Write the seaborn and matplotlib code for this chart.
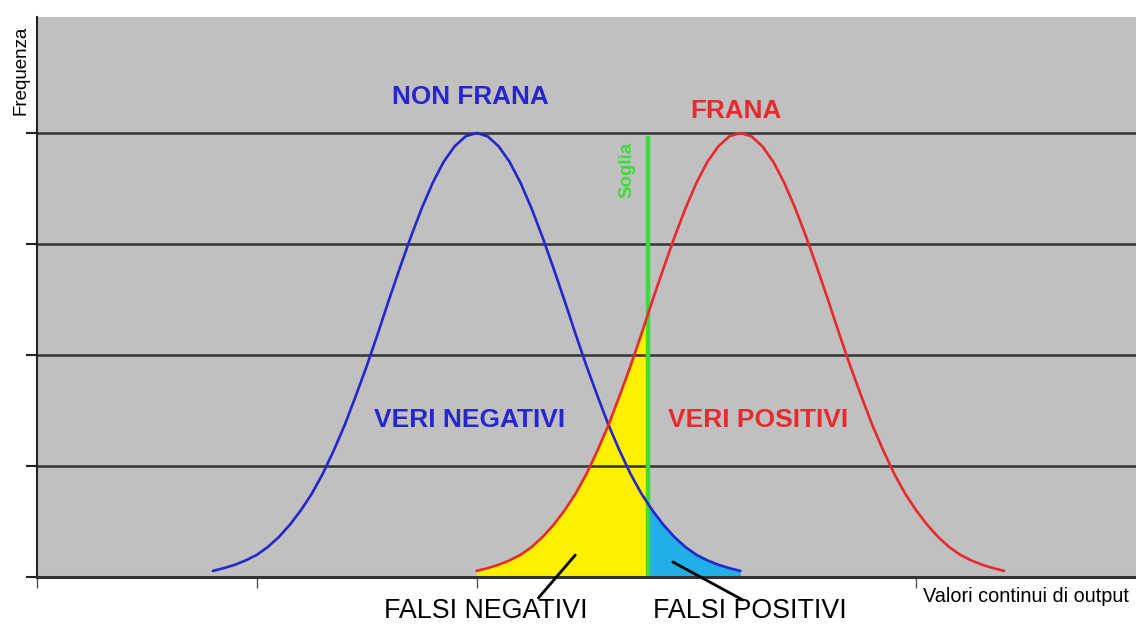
import matplotlib
matplotlib.use("Agg")
import matplotlib.pyplot as plt
from matplotlib.patches import Rectangle
import seaborn as sns

# ---- data ----
blue_x = [0.80, 0.85, 0.90, 0.95, 1.00, 1.05, 1.10, 1.15, 1.20, 1.25, 1.30, 1.35, 1.40,
          1.45, 1.50, 1.55, 1.60, 1.65, 1.70, 1.75, 1.80, 1.85, 1.90, 1.95, 2.00,
          2.05, 2.10, 2.15, 2.20, 2.25, 2.30, 2.35, 2.40, 2.45, 2.50, 2.55, 2.60,
          2.65, 2.70, 2.75, 2.80, 2.85, 2.90, 2.95, 3.00, 3.05, 3.10, 3.15, 3.20]
blue_y = [0.055, 0.08, 0.11, 0.15, 0.20, 0.27, 0.36, 0.47, 0.60, 0.75, 0.93, 1.14, 1.37,
          1.63, 1.90, 2.19, 2.49, 2.78, 3.06, 3.32, 3.55, 3.74, 3.88, 3.97, 4.00,
          3.97, 3.88, 3.74, 3.55, 3.32, 3.06, 2.78, 2.49, 2.19, 1.90, 1.63, 1.37,
          1.14, 0.93, 0.75, 0.60, 0.47, 0.36, 0.27, 0.20, 0.15, 0.11, 0.08, 0.055]
red_x = [2.00, 2.05, 2.10, 2.15, 2.20, 2.25, 2.30, 2.35, 2.40, 2.45, 2.50, 2.55, 2.60,
         2.65, 2.70, 2.75, 2.80, 2.85, 2.90, 2.95, 3.00, 3.05, 3.10, 3.15, 3.20,
         3.25, 3.30, 3.35, 3.40, 3.45, 3.50, 3.55, 3.60, 3.65, 3.70, 3.75, 3.80,
         3.85, 3.90, 3.95, 4.00, 4.05, 4.10, 4.15, 4.20, 4.25, 4.30, 4.35, 4.40]
red_y = [0.055, 0.08, 0.11, 0.15, 0.20, 0.27, 0.36, 0.47, 0.60, 0.75, 0.93, 1.14, 1.37,
         1.63, 1.90, 2.19, 2.49, 2.78, 3.06, 3.32, 3.55, 3.74, 3.88, 3.97, 4.00,
         3.97, 3.88, 3.74, 3.55, 3.32, 3.06, 2.78, 2.49, 2.19, 1.90, 1.63, 1.37,
         1.14, 0.93, 0.75, 0.60, 0.47, 0.36, 0.27, 0.20, 0.15, 0.11, 0.08, 0.055]
threshold = 2.78
y_ticks = [0, 1, 2, 3, 4]
x_ticks = [0, 1, 2, 4]

# ---- style ----
sns.set_style("white")
plt.rcParams["font.family"] = ["Liberation Sans", "DejaVu Sans"]

BLUE = "#2626cc"
RED = "#e62a2e"
GREEN = "#3ddc3d"
YELLOW = "#fff000"
CYAN = "#22aee6"

fig = plt.figure(figsize=(11.36, 6.28), dpi=100)
ax = fig.add_axes([0.0326, 0.0812, 0.9674, 0.8918])
ax.set_facecolor("#c0c0c0")

# fills
yfill = ax.fill_between(red_x, red_y, 0, color=YELLOW, lw=0, zorder=1)
yfill.set_clip_path(Rectangle((0, 0), threshold, 10, transform=ax.transData))
cfill = ax.fill_between(blue_x, blue_y, 0, color=CYAN, lw=0, zorder=1)
cfill.set_clip_path(Rectangle((threshold, 0), 10, 10, transform=ax.transData))

# curves
sns.lineplot(x=blue_x, y=blue_y, color=BLUE, lw=1.9, ax=ax, zorder=3)
sns.lineplot(x=red_x, y=red_y, color=RED, lw=1.9, ax=ax, zorder=3)

# threshold
ax.plot([threshold, threshold], [0, 3.97], color=GREEN, lw=3.2, zorder=2.5,
        solid_capstyle="butt")
ax.text(threshold - 0.095, 3.67, "Soglia", color=GREEN, rotation=90,
        ha="center", va="center", fontsize=13.5, fontweight="bold")

# axes
ax.set_xlim(0, 5.0)
ax.set_ylim(0, 5.045)
ax.set_xticks(x_ticks)
ax.set_yticks(y_ticks)
ax.set_xticklabels([])
ax.set_yticklabels([])
ax.tick_params(axis="y", direction="out", length=8, width=1.5, color="#222222", left=True)
ax.tick_params(axis="x", direction="out", length=8, width=1.0, color="#555555", bottom=True)
ax.set_axisbelow("line")
ax.yaxis.grid(True, color="#333333", lw=1.8)
ax.xaxis.grid(False)
for s in ["top", "right"]:
    ax.spines[s].set_visible(False)
ax.spines["left"].set_color("#222222")
ax.spines["left"].set_linewidth(1.5)
ax.spines["bottom"].set_color("#333333")
ax.spines["bottom"].set_linewidth(2.2)

# labels
ax.text(1.97, 4.32, "NON FRANA", color=BLUE, ha="center", va="center",
        fontsize=18.8, fontweight="bold")
ax.text(3.18, 4.20, "FRANA", color=RED, ha="center", va="center",
        fontsize=18.8, fontweight="bold")
ax.text(1.97, 1.41, "VERI NEGATIVI", color=BLUE, ha="center", va="center",
        fontsize=19, fontweight="bold")
ax.text(3.28, 1.41, "VERI POSITIVI", color=RED, ha="center", va="center",
        fontsize=19, fontweight="bold")
ax.text(2.04, -0.31, "FALSI NEGATIVI", color="black", ha="center", va="center",
        fontsize=19.3, clip_on=False)
ax.text(3.245, -0.31, "FALSI POSITIVI", color="black", ha="center", va="center",
        fontsize=19.3, clip_on=False)
ax.plot([2.449, 2.281], [0.198, -0.189], color="black", lw=2.0, clip_on=False, zorder=4)
ax.plot([2.893, 3.211], [0.135, -0.207], color="black", lw=2.0, clip_on=False, zorder=4)

ax.text(4.03, -0.18, "Valori continui di output", color="black", ha="left",
        va="center", fontsize=14.3, clip_on=False)
fig.text(0.0185, 0.888, "Frequenza", rotation=90, ha="center", va="center",
         fontsize=13.5, color="black")

fig.savefig("out.png", dpi=100, facecolor="white")
